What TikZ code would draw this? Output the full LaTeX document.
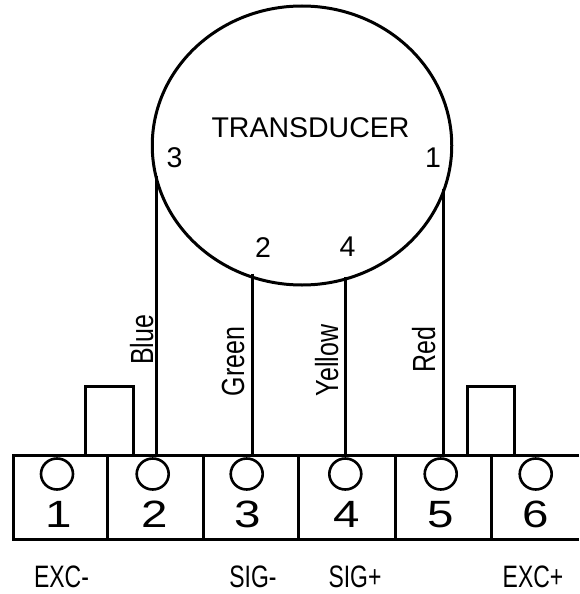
\documentclass[tikz,border=0pt]{standalone}
\usepackage{fontspec}
\setmainfont{Liberation Sans}
\usetikzlibrary{shapes.geometric}
\tikzset{
  x=1pt,y=-1pt,
  wire/.style={line width=3pt,line cap=butt,line join=miter},
  hole/.style={draw,line width=2.6pt,ellipse,minimum width=32pt,minimum height=31pt,inner sep=0pt},
  bignum/.style={inner sep=0pt,font=\fontsize{38}{38}\selectfont,xscale=1.25},
  lab/.style={inner sep=0pt,font=\fontsize{28.5}{28.5}\selectfont},
  wirelab/.style={inner sep=0pt,anchor=base,rotate=90,xscale=.78,font=\fontsize{32}{32}\selectfont},
  botlab/.style={inner sep=0pt,font=\fontsize{31}{31}\selectfont,xscale=.74},
}
\begin{document}
\begin{tikzpicture}
\useasboundingbox (0,0) rectangle (579,594);
\node[draw,wire,ellipse,minimum width=299.5pt,minimum height=279pt,inner sep=0pt] (tr) at (302,145.5) {};
\node[lab] (title) at (310.5,127.5) {TRANSDUCER};
\node[lab] (p3) at (174.5,158) {3};
\node[lab] (p1) at (433,158) {1};
\node[lab] (p2) at (263,247.5) {2};
\node[lab] (p4) at (347.5,246.5) {4};
% terminal block
\coordinate (tl) at (13.5,455);
\coordinate (bl) at (13.5,539);
\coordinate (tr2) at (579,455);
\coordinate (br2) at (579,539);
\draw[wire] (tr2) -- (tl) -- (bl) -- (br2);
\foreach \n/\x in {d1/107.5,d2/203.5,d3/298.7,d4/395,d5/491}{
  \coordinate (\n t) at (\x,455);
  \coordinate (\n b) at (\x,539);
  \draw[wire] (\n t) -- (\n b);
}
\foreach \n/\x/\d/\nx in {h1/57/1/59,h2/152.7/2/155,h3/246.7/3/248,h4/345.3/4/347,h5/440.7/5/441,h6/535.7/6/536}{
  \node[hole] (\n) at (\x,474) {};
  \node[bignum] (\n l) at (\nx,514.5) {\d};
}
% wires
\foreach \n/\x/\yy in {w1/156.5/176,w2/252/273.5,w3/345.5/276.5,w4/443/189}{
  \coordinate (\n a) at (\x,\yy);
  \coordinate (\n b) at (\x,455);
  \draw[wire] (\n a) -- (\n b);
}
\node[wirelab] (blue) at (153,340) {Blue};
\node[wirelab] (green) at (244,361.5) {Green};
\node[wirelab] (yellow) at (338,360.5) {Yellow};
\node[wirelab] (red) at (435,349.5) {Red};
% jumpers
\coordinate (j1a) at (85,455); \coordinate (j1b) at (85,386.7);
\coordinate (j1c) at (133,386.7); \coordinate (j1d) at (133,455);
\draw[wire] (j1a) -- (j1b) -- (j1c) -- (j1d);
\coordinate (j2a) at (467,455); \coordinate (j2b) at (467,386.7);
\coordinate (j2c) at (514,386.7); \coordinate (j2d) at (514,455);
\draw[wire] (j2a) -- (j2b) -- (j2c) -- (j2d);
\node[botlab] (e1) at (61.5,577) {EXC-};
\node[botlab] (s1) at (253,577) {SIG-};
\node[botlab] (s2) at (355,577) {SIG+};
\node[botlab] (e2) at (533,577) {EXC+};
\end{tikzpicture}
\end{document}
